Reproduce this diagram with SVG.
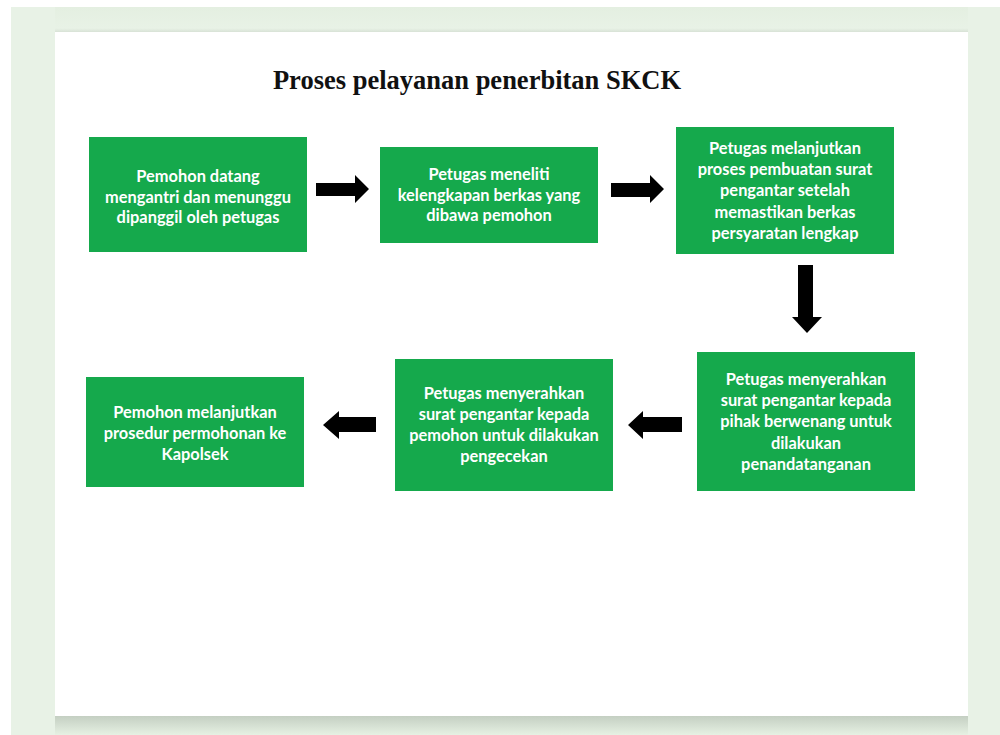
<svg xmlns="http://www.w3.org/2000/svg" width="1000" height="735" viewBox="0 0 1000 735">
  <defs>
    <linearGradient id="shadowB" x1="0" y1="0" x2="0" y2="1">
      <stop offset="0" stop-color="#c4cfc2"/>
      <stop offset="1" stop-color="#e6f1e3"/>
    </linearGradient>
    <linearGradient id="shadowT" x1="0" y1="0" x2="0" y2="1">
      <stop offset="0" stop-color="#e4efe1"/>
      <stop offset="0.85" stop-color="#e8f2e6"/>
      <stop offset="1" stop-color="#d8e2d6"/>
    </linearGradient>
  </defs>
  <style>
    .box { fill: #15a94c; }
    .lbl { font-family: Lato, "Open Sans", "Liberation Sans", sans-serif; font-weight: bold; font-size: 16.4px; fill: #ffffff; text-anchor: middle; }
    .title { font-family: "Liberation Serif", "DejaVu Serif", serif; font-weight: bold; font-size: 26.5px; fill: #111111; text-anchor: middle; }
    .arr { fill: #000000; }
  </style>

  <!-- background -->
  <rect x="0" y="0" width="1000" height="735" fill="#ffffff"/>
  <rect x="11" y="7" width="989" height="728" fill="#e8f2e6"/>
  <rect x="55" y="7" width="913" height="25" fill="url(#shadowT)"/>
  <rect x="55" y="716" width="913" height="19" fill="url(#shadowB)"/>
  <rect x="55" y="32" width="913" height="684" fill="#ffffff"/>

  <text class="title" x="477" y="89">Proses pelayanan penerbitan SKCK</text>

  <g id="node1">
    <rect class="box" x="89" y="137" width="218" height="115"/>
    <text class="lbl" x="198" y="182">Pemohon datang</text>
    <text class="lbl" x="198" y="203">mengantri dan menunggu</text>
    <text class="lbl" x="198" y="223">dipanggil oleh petugas</text>
  </g>

  <g id="node2">
    <rect class="box" x="380" y="147" width="218" height="96"/>
    <text class="lbl" x="489" y="180">Petugas meneliti</text>
    <text class="lbl" x="489" y="201">kelengkapan berkas yang</text>
    <text class="lbl" x="489" y="221">dibawa pemohon</text>
  </g>

  <g id="node3">
    <rect class="box" x="676" y="127" width="218" height="127"/>
    <text class="lbl" x="785" y="154">Petugas melanjutkan</text>
    <text class="lbl" x="785" y="175">proses pembuatan surat</text>
    <text class="lbl" x="785" y="196">pengantar setelah</text>
    <text class="lbl" x="785" y="218">memastikan berkas</text>
    <text class="lbl" x="785" y="239">persyaratan lengkap</text>
  </g>

  <g id="node4">
    <rect class="box" x="697" y="352" width="218" height="139"/>
    <text class="lbl" x="806" y="385">Petugas menyerahkan</text>
    <text class="lbl" x="806" y="406">surat pengantar kepada</text>
    <text class="lbl" x="806" y="427">pihak berwenang untuk</text>
    <text class="lbl" x="806" y="449">dilakukan</text>
    <text class="lbl" x="806" y="470">penandatanganan</text>
  </g>

  <g id="node5">
    <rect class="box" x="395" y="359" width="218" height="132"/>
    <text class="lbl" x="504" y="399">Petugas menyerahkan</text>
    <text class="lbl" x="504" y="420">surat pengantar kepada</text>
    <text class="lbl" x="504" y="441">pemohon untuk dilakukan</text>
    <text class="lbl" x="504" y="462">pengecekan</text>
  </g>

  <g id="node6">
    <rect class="box" x="86" y="377" width="218" height="110"/>
    <text class="lbl" x="195" y="418">Pemohon melanjutkan</text>
    <text class="lbl" x="195" y="439">prosedur permohonan ke</text>
    <text class="lbl" x="195" y="460">Kapolsek</text>
  </g>

  <g id="connectors">
    <polygon class="arr" points="316,183 355,183 355,175 369,189 355,203 355,196 316,196"/>
    <polygon class="arr" points="611,183 650,183 650,175 664,189 650,203 650,197 611,197"/>
    <polygon class="arr" points="798,265 813,265 813,317 822,317 807,333 792,317 798,317"/>
    <polygon class="arr" points="682,417 643,417 643,411 628,425 643,439 643,432 682,432"/>
    <polygon class="arr" points="376,417 339,417 339,411 323,425 339,439 339,432 376,432"/>
  </g>
</svg>
